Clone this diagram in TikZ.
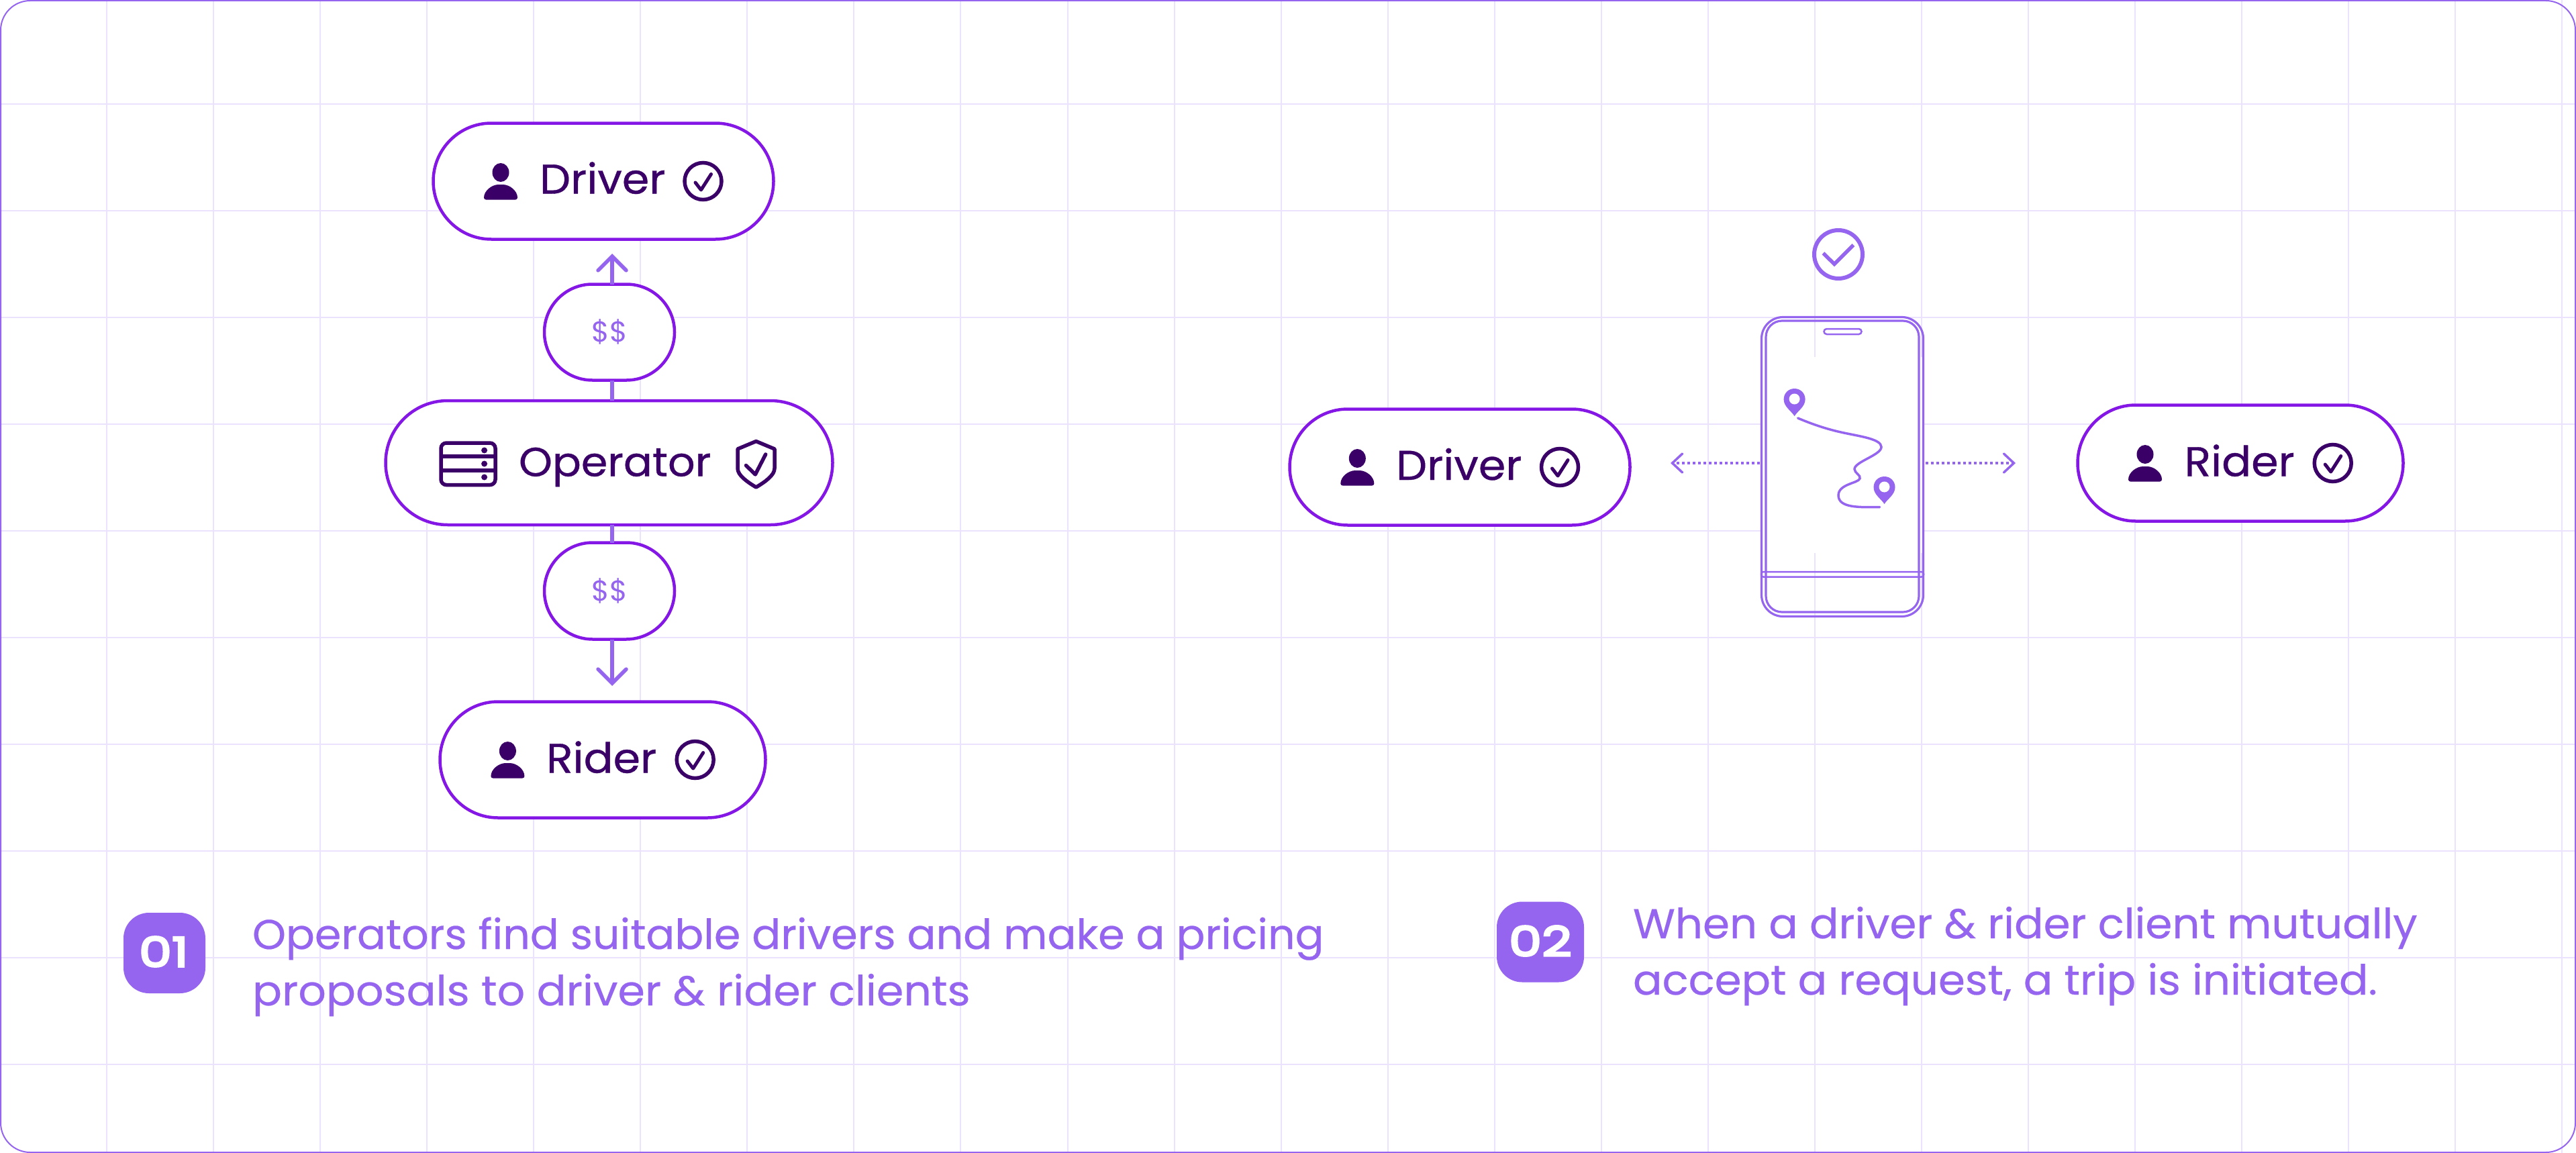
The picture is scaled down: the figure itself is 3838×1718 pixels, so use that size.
\documentclass[tikz,border=0pt]{standalone}
\usepackage{fontspec}
\usetikzlibrary{arrows.meta}
\setmainfont{Poppins}
\newfontfamily\poplabel[FakeStretch=1.05,FakeBold=0.6]{Poppins}
\newfontfamily\copyone[FakeStretch=1.025,FakeBold=0.4]{Poppins}
\newfontfamily\copytwo[FakeStretch=1.05,FakeBold=0.4]{Poppins}
\newfontfamily\copythree[FakeStretch=1.038,FakeBold=0.4]{Poppins}
\newfontfamily\popb[FakeStretch=1.28,FakeBold=5]{Poppins}
\definecolor{gridc}{HTML}{EBE3FD}
\definecolor{lilac}{HTML}{9565F0}
\definecolor{violet}{HTML}{8517E6}
\definecolor{ink}{HTML}{3A0068}
\tikzset{
  pill/.style={draw=violet,fill=white,line width=4.5pt,rectangle,outer sep=0pt,inner sep=0pt,minimum width=#1},
  pillh/.style={minimum height=173pt,rounded corners=86.5pt},
  label/.style={text=ink,inner sep=0pt,outer sep=0pt,font=\poplabel\fontsize{62}{62}\selectfont,anchor=base west},
  money/.style={text=lilac,inner sep=0pt,outer sep=0pt,font=\fontsize{43}{43}\selectfont},
  copy/.style={text=lilac,inner sep=0pt,outer sep=0pt,anchor=base west},
  badge/.style={fill=lilac,rectangle,rounded corners=38pt,minimum height=120pt,outer sep=0pt,inner sep=0pt},
  badgetext/.style={text=white,inner sep=0pt,outer sep=0pt,font=\popb\fontsize{61}{61}\selectfont},
  flow/.style={draw=lilac,line width=5.5pt},
  flowtip/.style={-{Straight Barb[length=21pt,width=42pt,line cap=round]}},
  dots/.style={draw=lilac,line width=3.5pt,dash pattern=on 4pt off 4pt,-{Straight Barb[length=15pt,width=28pt,line cap=round]}},
  phoneline/.style={draw=lilac,line width=3.2pt},
  person/.pic={
    \fill[ink] (0,-13) ellipse[x radius=12.5pt,y radius=14pt];
    \fill[ink,rounded corners=3pt] (-25,27.5) .. controls (-25,14) and (-13,5) .. (0,5) .. controls (13,5) and (25,14) .. (25,27.5) -- cycle;
  },
  okmark/.pic={
    \draw[ink,line width=5.5pt] (0,0) circle[radius=27.5pt];
    \draw[ink,line width=5pt,line cap=round,line join=round] (-11.5,2) -- (-3,13) -- (12,-10.5);
  },
  pin/.pic={
    \fill[lilac] (0,0) .. controls (-5,-8) and (-16,-14) .. (-16,-25) .. controls (-16,-34) and (-9,-41) .. (0,-41) .. controls (9,-41) and (16,-34) .. (16,-25) .. controls (16,-14) and (5,-8) .. (0,0) -- cycle;
    \fill[white] (0,-25.5) circle[radius=8pt];
  }
}
\begin{document}
\begin{tikzpicture}[x=1pt,y=-1pt]
\useasboundingbox (0,0) rectangle (3838,1718);
\fill[white] (0,0) rectangle (3838,1718);
% grid
\foreach \k in {1,...,24} \draw[gridc,line width=2pt] ({159.05*\k},0) -- ({159.05*\k},1718);
\foreach \k in {0,...,9} \draw[gridc,line width=2pt] (0,{154.5+159*\k}) -- (3838,{154.5+159*\k});
\draw[lilac,line width=2pt,rounded corners=44pt] (1,1) rectangle (3837,1717);

% left column
\node[pill=507pt,pillh] (driverA) at (899,270) {};
\node[pill=194pt,minimum height=143pt,rounded corners=71.5pt] (dollarA) at (908,495) {};
\node[pill=666pt,minimum height=185pt,rounded corners=92.5pt] (operator) at (907.5,689.5) {};
\node[pill=194pt,minimum height=144pt,rounded corners=72pt] (dollarB) at (908,880.5) {};
\node[pill=485pt,pillh] (riderA) at (898,1132) {};
\coordinate (tipA) at (912,378);
\coordinate (tipB) at (912,1022);
\draw[flow,flowtip] (dollarA.north -| tipA) -- (tipA);
\draw[flow] (operator.north -| tipA) -- (dollarA.south -| tipA);
\draw[flow] (operator.south -| tipA) -- (dollarB.north -| tipA);
\draw[flow,flowtip] (dollarB.south -| tipA) -- (tipB);
\node[money] (moneyA) at (908,494) {\$\$};
\node[money] (moneyB) at (908,880) {\$\$};

\pic at (746,270) {person};
\node[label] (driverAtext) at (804,288.5) {Driver};
\pic at (1047.5,270) {okmark};

\pic at (756.4,1132) {person};
\node[label] (riderAtext) at (814,1151.5) {Rider};
\pic at (1035.7,1132) {okmark};

% server icon
\draw[ink,line width=5.5pt,rounded corners=8pt] (657,660) rectangle (738,722.5);
\draw[ink,line width=5.5pt] (657,680) -- (738,680) (657,701) -- (738,701);
\foreach \yy in {671,691,711} \fill[ink] (721.6,\yy) circle[radius=4.5pt];
\node[label,font=\poplabel\fontsize{60.5}{60.5}\selectfont] (operatortext) at (773,709.5) {Operator};
% shield
\draw[ink,line width=5.5pt,line join=round] (1126.5,657.5) -- (1154,669) -- (1154,698) .. controls (1154,708) and (1140,718) .. (1126.5,726) .. controls (1113,718) and (1099,708) .. (1099,698) -- (1099,669) -- cycle;
\draw[ink,line width=5.5pt,line cap=round,line join=round] (1111.5,693.5) -- (1125.3,707) -- (1140.7,677);

% middle driver
\node[pill=507pt,pillh] (driverB) at (2175,696) {};
\pic at (2022.3,696) {person};
\node[label] (driverBtext) at (2080,715) {Driver};
\pic at (2324,696) {okmark};

% right rider
\node[pill=485pt,pillh] (riderB) at (3338,690) {};
\pic at (3196,690) {person};
\node[label] (riderBtext) at (3254.5,709.5) {Rider};
\pic at (3475.7,690) {okmark};

% phone
\fill[white] (2623,532) rectangle (2867,824);
\node[phoneline,rectangle,rounded corners=32pt,minimum width=241pt,minimum height=446pt,inner sep=0pt,outer sep=0pt] (phone) at (2745,695.5) {};
\draw[phoneline,rounded corners=24pt] (2631,478) rectangle (2859,912);
\draw[phoneline,line width=2.5pt,rounded corners=4pt] (2717.5,490) rectangle (2773.5,498);
\draw[phoneline,line width=2.5pt,rounded corners=3pt] (2624,852) rectangle (2866,859.5);
\draw[lilac,line width=6pt] (2739,379) circle[radius=36pt];
\draw[lilac,line width=5.5pt] (2716.4,377.3) -- (2733,393.5) -- (2761.4,365);
\pic at (2673.6,620) {pin};
\pic at (2807.5,751) {pin};
\draw[lilac,line width=3.5pt,line cap=round] (2678.6,623) .. controls (2700,632) and (2720,639) .. (2745,644.5) .. controls (2770,650) and (2803,654) .. (2803,666) .. controls (2803,678) and (2763,688) .. (2763,699) .. controls (2763,705) and (2773,708) .. (2771,713) .. controls (2769,720) and (2739,721) .. (2739,738) .. controls (2739,757) and (2770,756) .. (2800.7,755.5);
\coordinate (leftend) at (2489,690);
\coordinate (rightend) at (3003,690);
\draw[dots] ([xshift=-3pt]phone.west |- leftend) -- (leftend);
\draw[dots] ([xshift=3pt]phone.east |- rightend) -- (rightend);

% captions
\node[badge,minimum width=122pt] (badgeA) at (245,1420) {};
\node[badgetext] (badgeAtext) at (244,1418) {01};
\node[copy,font=\copyone\fontsize{62}{62}\selectfont] (copyA1) at (376,1414) {Operators find suitable drivers and make a pricing};
\node[copy,font=\copytwo\fontsize{62}{62}\selectfont] (copyA2) at (376,1498) {proposals to driver \& rider clients};
\node[badge,minimum width=130pt] (badgeB) at (2295,1403.5) {};
\node[badgetext] (badgeBtext) at (2295,1402) {02};
\node[copy,font=\copythree\fontsize{62}{62}\selectfont] (copyB1) at (2433,1398) {When a driver \& rider client mutually};
\node[copy,font=\copythree\fontsize{62}{62}\selectfont] (copyB2) at (2433,1482) {accept a request, a trip is initiated.};
\end{tikzpicture}
\end{document}
